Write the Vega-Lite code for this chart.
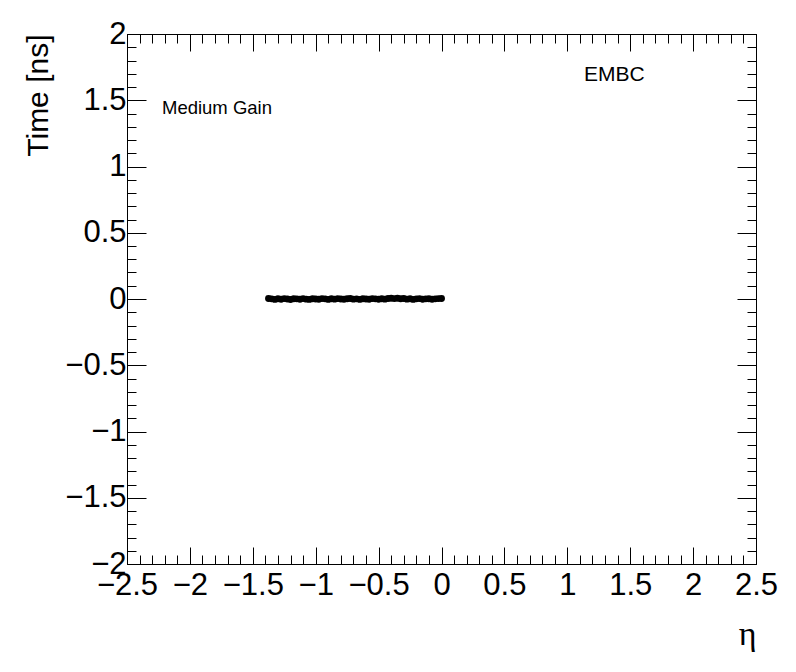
{
  "$schema": "https://vega.github.io/schema/vega-lite/v6.json",
  "width": 629,
  "height": 530,
  "autosize": "none",
  "padding": {"left": 127, "top": 34, "right": 40, "bottom": 108},
  "background": "white",
  "config": {
    "view": {"stroke": "black", "strokeWidth": 1},
    "font": "Liberation Sans",
    "axis": {"domain": false, "grid": false, "labelFont": "Liberation Sans", "titleFont": "Liberation Sans", "labelColor": "black", "titleColor": "black", "tickColor": "black", "labelFlush": false, "labelOverlap": false, "titleFontWeight": "normal"}
  },
  "datasets": {
    "pts": [
      {"eta": -1.375, "t": 0.004}, {"eta": -1.35, "t": 0.001}, {"eta": -1.325, "t": -0.003}, {"eta": -1.3, "t": 0.002},
      {"eta": -1.275, "t": -0.002}, {"eta": -1.25, "t": 0.003}, {"eta": -1.225, "t": 0.0}, {"eta": -1.2, "t": -0.004},
      {"eta": -1.175, "t": 0.002}, {"eta": -1.15, "t": 0.001}, {"eta": -1.125, "t": -0.002}, {"eta": -1.1, "t": 0.003},
      {"eta": -1.075, "t": -0.001}, {"eta": -1.05, "t": -0.003}, {"eta": -1.025, "t": 0.002}, {"eta": -1.0, "t": 0.0},
      {"eta": -0.975, "t": -0.002}, {"eta": -0.95, "t": 0.003}, {"eta": -0.925, "t": 0.001}, {"eta": -0.9, "t": -0.003},
      {"eta": -0.875, "t": 0.002}, {"eta": -0.85, "t": -0.001}, {"eta": -0.825, "t": 0.003}, {"eta": -0.8, "t": 0.0},
      {"eta": -0.775, "t": -0.002}, {"eta": -0.75, "t": 0.002}, {"eta": -0.725, "t": 0.004}, {"eta": -0.7, "t": -0.001},
      {"eta": -0.675, "t": 0.001}, {"eta": -0.65, "t": -0.003}, {"eta": -0.625, "t": 0.002}, {"eta": -0.6, "t": 0.0},
      {"eta": -0.575, "t": -0.002}, {"eta": -0.55, "t": 0.003}, {"eta": -0.525, "t": 0.001}, {"eta": -0.5, "t": -0.002},
      {"eta": -0.475, "t": 0.002}, {"eta": -0.45, "t": -0.001}, {"eta": -0.425, "t": 0.004}, {"eta": -0.4, "t": 0.005},
      {"eta": -0.375, "t": 0.003}, {"eta": -0.35, "t": 0.006}, {"eta": -0.325, "t": 0.002}, {"eta": -0.3, "t": 0.004},
      {"eta": -0.275, "t": -0.001}, {"eta": -0.25, "t": 0.002}, {"eta": -0.225, "t": -0.003}, {"eta": -0.2, "t": 0.001},
      {"eta": -0.175, "t": 0.003}, {"eta": -0.15, "t": -0.002}, {"eta": -0.125, "t": 0.001}, {"eta": -0.1, "t": 0.002},
      {"eta": -0.075, "t": -0.002}, {"eta": -0.05, "t": 0.001}, {"eta": -0.025, "t": 0.003}, {"eta": 0.0, "t": 0.004}
    ],
    "labels": [
      {"x": -2.222, "y": 1.44, "label": "Medium Gain", "kind": "gain"},
      {"x": 1.133, "y": 1.69, "label": "EMBC", "kind": "det"}
    ]
  },
  "layer": [
    {
      "data": {"name": "pts"},
      "mark": {"type": "point", "filled": true, "color": "black", "opacity": 1, "size": 48},
      "encoding": {
        "x": {"field": "eta", "type": "quantitative", "scale": {"domain": [-2.5, 2.5], "nice": false, "zero": false},
          "axis": {"orient": "bottom", "values": [-2.5, -2, -1.5, -1, -0.5, 0, 0.5, 1, 1.5, 2, 2.5], "format": ".2~f", "tickSize": -17, "labelPadding": 23, "labelFontSize": 31, "title": "η", "titleFont": "Liberation Serif", "titleFontSize": 34, "titleAnchor": "end", "titlePadding": 17}},
        "y": {"field": "t", "type": "quantitative", "scale": {"domain": [-2, 2], "nice": false, "zero": false},
          "axis": {"orient": "left", "values": [-2, -1.5, -1, -0.5, 0, 0.5, 1, 1.5, 2], "format": ".2~f", "tickSize": -19, "labelPadding": 20, "labelFontSize": 31, "title": "Time [ns]", "titleFontSize": 30, "titleAnchor": "end", "titlePadding": 11}}
      }
    },
    {
      "data": {"name": "pts"},
      "mark": {"type": "point", "opacity": 0},
      "encoding": {
        "x": {"field": "eta", "type": "quantitative",
          "axis": {"orient": "bottom", "values": [-2.5,-2.4,-2.3,-2.2,-2.1,-2,-1.9,-1.8,-1.7,-1.6,-1.5,-1.4,-1.3,-1.2,-1.1,-1,-0.9,-0.8,-0.7,-0.6,-0.5,-0.4,-0.3,-0.2,-0.1,0,0.1,0.2,0.3,0.4,0.5,0.6,0.7,0.8,0.9,1,1.1,1.2,1.3,1.4,1.5,1.6,1.7,1.8,1.9,2,2.1,2.2,2.3,2.4,2.5], "tickSize": -9, "labels": false, "title": null}},
        "y": {"field": "t", "type": "quantitative",
          "axis": {"orient": "left", "values": [-2,-1.9,-1.8,-1.7,-1.6,-1.5,-1.4,-1.3,-1.2,-1.1,-1,-0.9,-0.8,-0.7,-0.6,-0.5,-0.4,-0.3,-0.2,-0.1,0,0.1,0.2,0.3,0.4,0.5,0.6,0.7,0.8,0.9,1,1.1,1.2,1.3,1.4,1.5,1.6,1.7,1.8,1.9,2], "tickSize": -9, "labels": false, "title": null}}
      }
    },
    {
      "data": {"name": "pts"},
      "mark": {"type": "point", "opacity": 0},
      "encoding": {
        "x": {"field": "eta", "type": "quantitative",
          "axis": {"orient": "top", "values": [-2.5, -2, -1.5, -1, -0.5, 0, 0.5, 1, 1.5, 2, 2.5], "tickSize": -17, "labels": false, "title": null}},
        "y": {"field": "t", "type": "quantitative",
          "axis": {"orient": "right", "values": [-2, -1.5, -1, -0.5, 0, 0.5, 1, 1.5, 2], "tickSize": -19, "labels": false, "title": null}}
      }
    },
    {
      "data": {"name": "pts"},
      "mark": {"type": "point", "opacity": 0},
      "encoding": {
        "x": {"field": "eta", "type": "quantitative",
          "axis": {"orient": "top", "values": [-2.5,-2.4,-2.3,-2.2,-2.1,-2,-1.9,-1.8,-1.7,-1.6,-1.5,-1.4,-1.3,-1.2,-1.1,-1,-0.9,-0.8,-0.7,-0.6,-0.5,-0.4,-0.3,-0.2,-0.1,0,0.1,0.2,0.3,0.4,0.5,0.6,0.7,0.8,0.9,1,1.1,1.2,1.3,1.4,1.5,1.6,1.7,1.8,1.9,2,2.1,2.2,2.3,2.4,2.5], "tickSize": -9, "labels": false, "title": null}},
        "y": {"field": "t", "type": "quantitative",
          "axis": {"orient": "right", "values": [-2,-1.9,-1.8,-1.7,-1.6,-1.5,-1.4,-1.3,-1.2,-1.1,-1,-0.9,-0.8,-0.7,-0.6,-0.5,-0.4,-0.3,-0.2,-0.1,0,0.1,0.2,0.3,0.4,0.5,0.6,0.7,0.8,0.9,1,1.1,1.2,1.3,1.4,1.5,1.6,1.7,1.8,1.9,2], "tickSize": -9, "labels": false, "title": null}}
      }
    },
    {
      "data": {"name": "labels"},
      "transform": [{"filter": "datum.kind == 'gain'"}],
      "mark": {"type": "text", "align": "left", "baseline": "middle", "fontSize": 18.5, "font": "Liberation Sans", "color": "black"},
      "encoding": {
        "x": {"field": "x", "type": "quantitative", "axis": null},
        "y": {"field": "y", "type": "quantitative", "axis": null},
        "text": {"field": "label"}
      }
    },
    {
      "data": {"name": "labels"},
      "transform": [{"filter": "datum.kind == 'det'"}],
      "mark": {"type": "text", "align": "left", "baseline": "middle", "fontSize": 21, "font": "Liberation Sans", "color": "black"},
      "encoding": {
        "x": {"field": "x", "type": "quantitative", "axis": null},
        "y": {"field": "y", "type": "quantitative", "axis": null},
        "text": {"field": "label"}
      }
    }
  ],
  "resolve": {"axis": {"x": "independent", "y": "independent"}}
}
